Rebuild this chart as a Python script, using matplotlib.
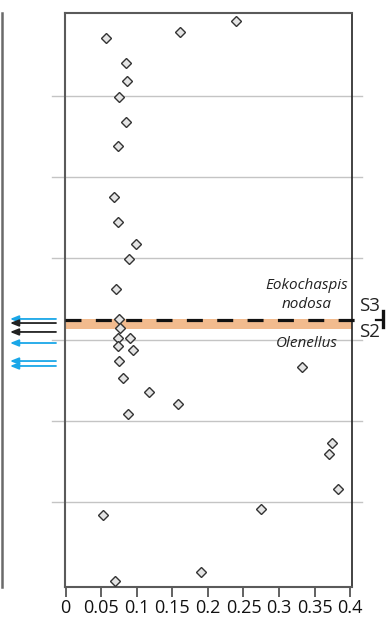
import matplotlib
matplotlib.use("Agg")
import matplotlib.pyplot as plt
from matplotlib.lines import Line2D
from matplotlib.transforms import blended_transform_factory

# ---- data ----
x_vals = [0.239, 0.161, 0.057, 0.085, 0.086, 0.075, 0.085, 0.074, 0.068,
          0.074, 0.099, 0.089, 0.071, 0.075, 0.076, 0.074, 0.091, 0.073,
          0.094, 0.075, 0.080, 0.117, 0.332, 0.158, 0.088, 0.374, 0.370,
          0.383, 0.274, 0.053, 0.190, 0.069]
y_vals = [69.27, 67.84, 67.18, 64.10, 61.88, 59.84, 56.76, 53.88, 47.50,
          44.52, 41.81, 39.89, 36.23, 32.50, 31.39, 30.23, 30.23, 29.21,
          28.68, 27.40, 25.31, 23.51, 26.59, 22.07, 20.84, 17.30, 15.87,
          11.64, 9.14, 8.36, 1.38, 0.27]
grid_levels = [10, 20, 30, 40, 50, 60]
x_ticks = [0, 0.05, 0.1, 0.15, 0.2, 0.25, 0.3, 0.35, 0.4]
x_ticklabels = ["0", "0.05", "0.1", "0.15", "0.2", "0.25", "0.3", "0.35", "0.4"]
boundary_level = 32.45          # S3 / S2 boundary (dashed line)
band_bottom, band_top = 31.27, 32.50
arrow_levels = [32.54, 32.04, 30.94, 29.58, 27.36, 26.75]
arrow_colors = ["#1aa7e8", "#222222", "#222222", "#1aa7e8", "#1aa7e8", "#1aa7e8"]

W, H = 387, 617
fig = plt.figure(figsize=(W / 100, H / 100), dpi=100)
plt.rcParams['font.family'] = ['Open Sans', 'DejaVu Sans']

ax_l, ax_r, ax_t, ax_b = 65, 352, 13, 587
ax = fig.add_axes([ax_l / W, 1 - ax_b / H, (ax_r - ax_l) / W, (ax_b - ax_t) / H])
ax.set_xlim(-0.001, 0.4027)
ax.set_ylim(-0.468, 70.22)

aw = ax_r - ax_l
trans = blended_transform_factory(ax.transAxes, ax.transData)

# gridlines extending beyond the frame
for g in grid_levels:
    ax.plot([(52 - ax_l) / aw, (362 - ax_l) / aw], [g, g], transform=trans,
            color="#c4c4c4", lw=1.0, clip_on=False, zorder=1)

# orange band
ax.fill_between([0, 1], band_bottom, band_top, transform=trans,
                color="#f2bb8e", lw=0, zorder=2)

# dashed boundary
ax.plot([0, (359 - ax_l) / aw], [boundary_level, boundary_level], transform=trans,
        color="#111111", lw=2.3, dashes=(5, 4.5), clip_on=False, zorder=3)
ax.plot([(376 - ax_l) / aw, (383 - ax_l) / aw], [boundary_level, boundary_level],
        transform=trans, color="#111111", lw=1.6, clip_on=False, zorder=3)
ax.plot([(383 - ax_l) / aw, (383 - ax_l) / aw], [boundary_level + 1.1, boundary_level - 0.9],
        transform=trans, color="#111111", lw=2.4, clip_on=False, zorder=3)

# scatter points
ax.plot(x_vals, y_vals, linestyle="none", marker="D", ms=5.0,
        mfc="#e4e4e4", mec="#333333", mew=1.0, zorder=4)

# labels
ax.text((307 - ax_l) / aw, 36.72, "Eokochaspis", transform=trans, ha="center", va="center",
        fontsize=11, style="italic", color="#222222")
ax.text((307 - ax_l) / aw, 34.38, "nodosa", transform=trans, ha="center", va="center",
        fontsize=11, style="italic", color="#222222")
ax.text((307 - ax_l) / aw, 29.58, "Olenellus", transform=trans, ha="center", va="center",
        fontsize=11, style="italic", color="#222222")
ax.text((369 - ax_l) / aw, 34.14, "S3", transform=trans, ha="center", va="center",
        fontsize=13.5, color="#222222")
ax.text((369 - ax_l) / aw, 30.94, "S2", transform=trans, ha="center", va="center",
        fontsize=13.5, color="#222222")

# arrows on the left
for lvl, c in zip(arrow_levels, arrow_colors):
    ax.annotate("", xy=((10 - ax_l) / aw, lvl), xytext=((56 - ax_l) / aw, lvl),
                xycoords=trans, textcoords=trans,
                arrowprops=dict(arrowstyle="-|>,head_length=0.5,head_width=0.2",
                                color=c, lw=1.3, shrinkA=0, shrinkB=0),
                annotation_clip=False)

# left vertical line (edge of neighbouring column)
fig.add_artist(Line2D([1.5 / W, 1.5 / W], [1 - 13 / H, 1 - 587 / H],
                      color="#6a6a6a", lw=1.8))

# axes styling
ax.set_yticks([])
ax.set_xticks(x_ticks)
ax.set_xticklabels(x_ticklabels, fontsize=13)
ax.tick_params(axis="x", direction="out", length=7, width=1.3, color="#555555",
               pad=1.5, labelcolor="#111111")
for s in ["left", "top", "bottom"]:
    ax.spines[s].set_color("#5a5a5a")
    ax.spines[s].set_linewidth(1.5)
ax.spines["right"].set_color("#222222")
ax.spines["right"].set_linewidth(1.2)
ax.patch.set_alpha(0)

fig.savefig("out.png", dpi=100)
